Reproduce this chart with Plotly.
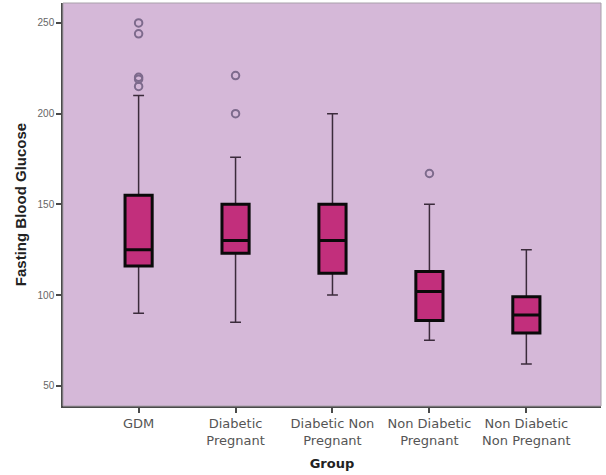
import plotly.graph_objects as go

groups = ["GDM", "Diabetic Pregnant", "Diabetic Non Pregnant", "Non Diabetic Pregnant", "Non Diabetic Non Pregnant"]
tick_labels = ["GDM", "Diabetic<br>Pregnant", "Diabetic Non<br>Pregnant", "Non Diabetic<br>Pregnant", "Non Diabetic<br>Non Pregnant"]
lower_whisker = [90, 85, 100, 75, 62]
q1 = [116, 123, 112, 86, 79]
median = [125, 130, 130, 102, 89]
q3 = [155, 150, 150, 113, 99]
upper_whisker = [210, 176, 200, 150, 125]
outlier_groups = ["GDM", "GDM", "GDM", "GDM", "GDM", "Diabetic Pregnant", "Diabetic Pregnant", "Non Diabetic Pregnant"]
outlier_values = [250, 244, 220, 219, 215, 221, 200, 167]

fig = go.Figure()

# whiskers (thin)
fig.add_trace(go.Box(
    x=groups, q1=q1, median=median, q3=q3,
    lowerfence=lower_whisker, upperfence=upper_whisker,
    width=0.28, whiskerwidth=0.4,
    line=dict(color="#3b2b3b", width=1.5),
    fillcolor="#c22f7c", boxpoints=False, showlegend=False,
))
# boxes (thick outline)
fig.add_trace(go.Box(
    x=groups, q1=q1, median=median, q3=q3,
    lowerfence=q1, upperfence=q3,
    width=0.28, whiskerwidth=0,
    line=dict(color="#0a0a0a", width=3),
    fillcolor="#c22f7c", boxpoints=False, showlegend=False,
))
# outliers
fig.add_trace(go.Scatter(
    x=outlier_groups, y=outlier_values, mode="markers",
    marker=dict(symbol="circle-open", size=7.5, color="#7d6a8c", line=dict(width=2)),
    showlegend=False,
))

fig.update_layout(
    width=606, height=475,
    margin=dict(l=63, r=5, t=3, b=69),
    paper_bgcolor="white", plot_bgcolor="#d5b8d8",
    boxmode="overlay",
    font=dict(family="Liberation Sans, Arial, sans-serif", color="#444444"),
    shapes=[dict(type="rect", xref="paper", yref="paper", x0=0, y0=0, x1=1, y1=1,
                 line=dict(color="#a9a0aa", width=1), layer="above")],
)
fig.update_xaxes(
    type="category", categoryorder="array", categoryarray=groups,
    tickvals=groups, ticktext=tick_labels,
    range=[-0.78, 4.77],
    showline=True, linecolor="#4a4a4a", linewidth=1.5,
    ticks="outside", ticklen=5, tickcolor="#4a4a4a", tickwidth=1.5,
    tickfont=dict(family="DejaVu Sans, sans-serif", size=13, color="#555555"),
    title=dict(text="<b>Group</b>", font=dict(family="DejaVu Sans, sans-serif", size=13, color="#222222"), standoff=12),
    showgrid=False, zeroline=False,
)
fig.update_yaxes(
    range=[38.8, 261],
    tickvals=[50, 100, 150, 200, 250],
    showline=True, linecolor="#4a4a4a", linewidth=1.5,
    ticks="outside", ticklen=5, tickcolor="#4a4a4a", tickwidth=1.5,
    tickfont=dict(size=10, color="#666666"),
    title=dict(text="<b>Fasting Blood Glucose</b>", font=dict(size=15, color="#222222"), standoff=7),
    showgrid=False, zeroline=False,
)

fig.write_html("out.html", config={"displayModeBar": False},
               post_script="document.body.style.margin='0';")
